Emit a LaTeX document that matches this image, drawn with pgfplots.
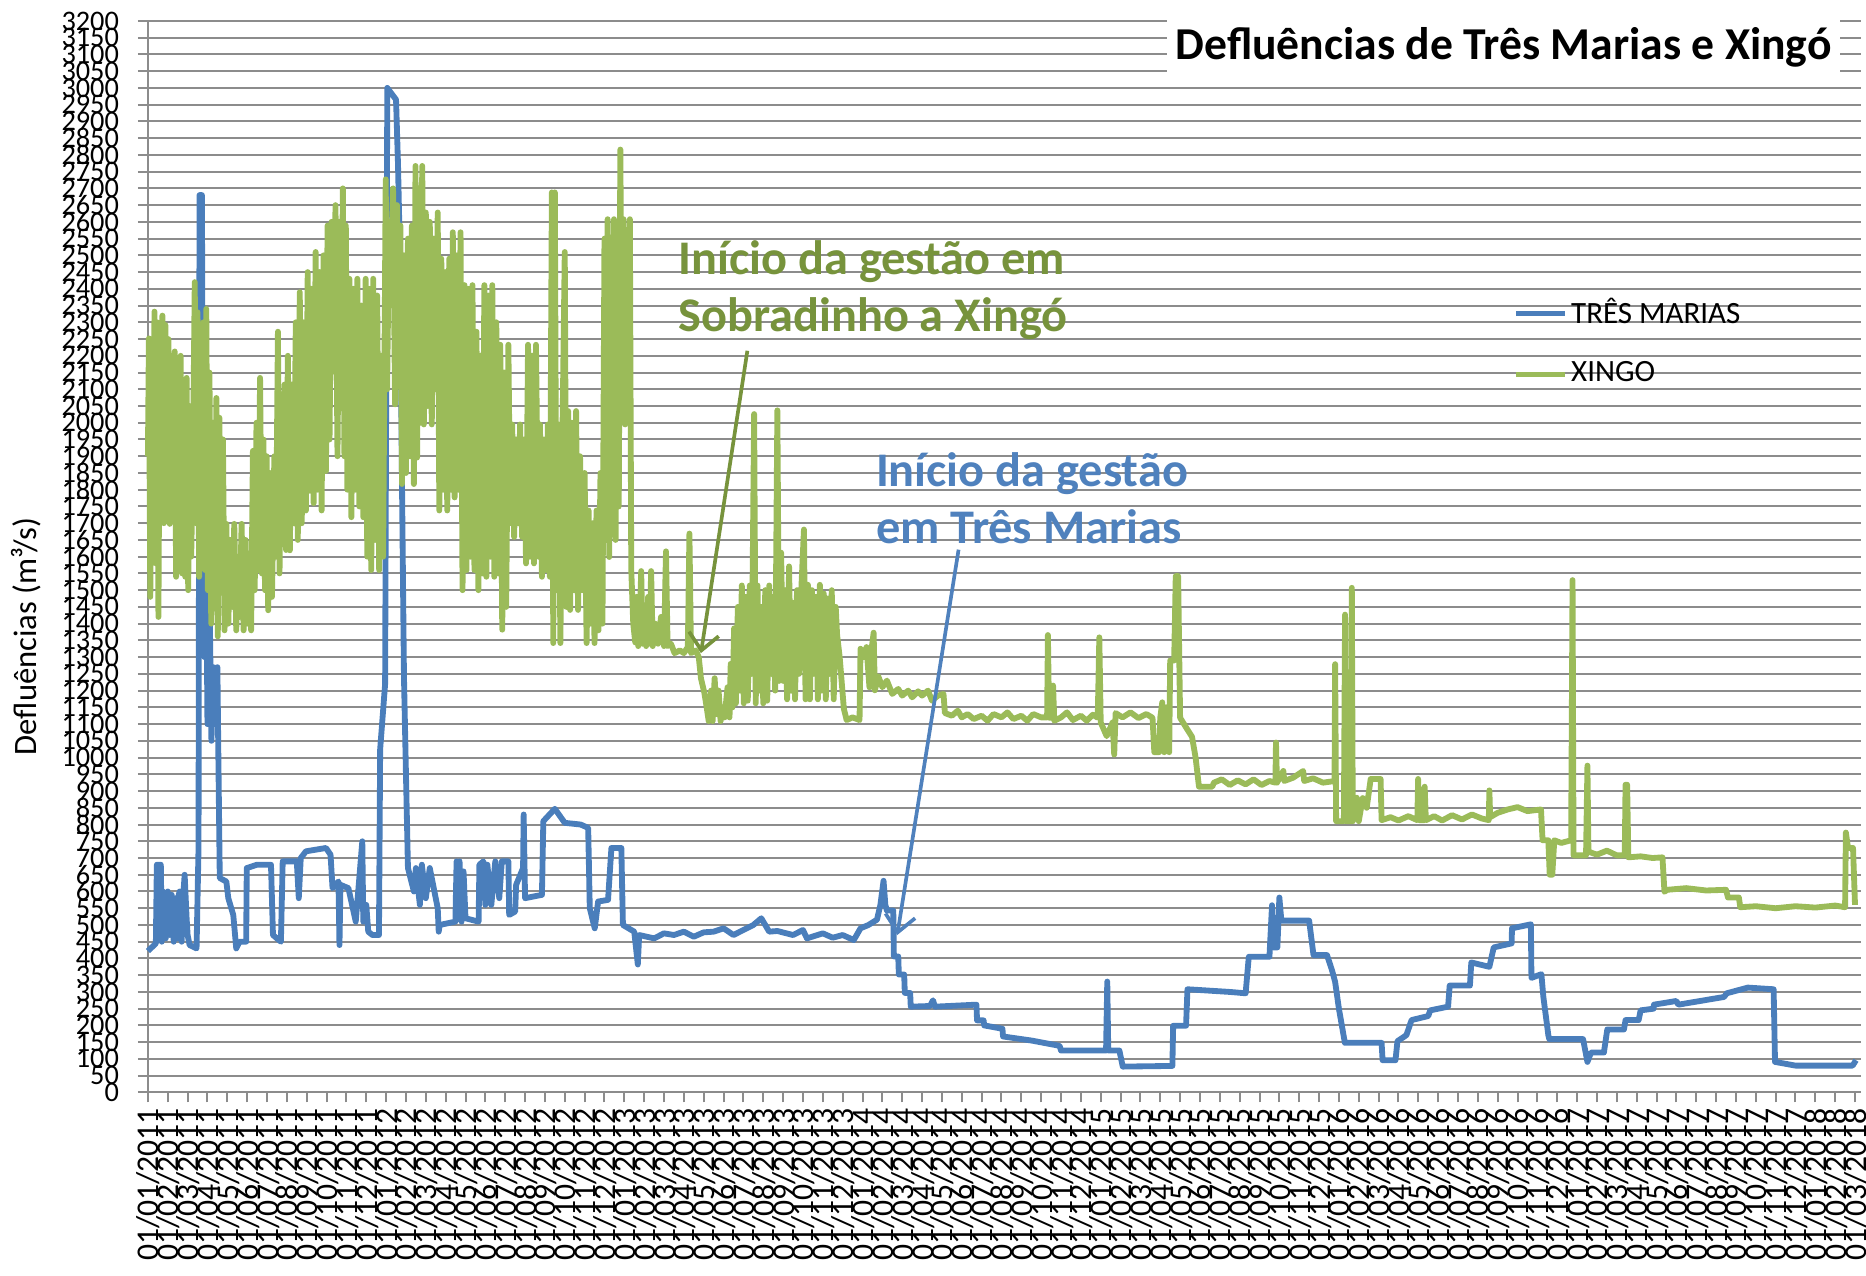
\documentclass[border=0pt]{standalone}
\usepackage{fontspec}
\setmainfont{Carlito}
\usepackage{pgfplots}
\pgfplotsset{compat=1.18}
\usetikzlibrary{arrows.meta}
\definecolor{tmblue}{RGB}{74,126,187}
\definecolor{xgreen}{RGB}{155,187,89}
\definecolor{annogreen}{RGB}{119,147,60}
\definecolor{annoblue}{RGB}{79,129,189}
\definecolor{gridgray}{RGB}{140,140,140}
\begin{document}
\begin{tikzpicture}
\begin{axis}[
  scale only axis, width=514.2pt, height=321.6pt,
  xmin=0, xmax=86.3, ymin=0, ymax=3200,
  clip=false,
  axis x line*=bottom, axis y line*=left,
  axis line style={gridgray, line width=0.6pt, -},
  ytick={0,50,...,3200},
  ymajorgrids, grid style={gridgray, line width=0.6pt},
  xtick={0,...,86},
  tick align=outside, major tick length=3pt,
  tick style={gridgray, line width=0.6pt},
  /pgf/number format/assume math mode=true,
  /pgf/number format/set thousands separator={},
  yticklabel style={font=\fontsize{8.5}{9}\selectfont, inner sep=0pt, xshift=-5.5pt},
  xticklabel={\pgfmathtruncatemacro{\mm}{mod(round(\tick),12)+1}\pgfmathtruncatemacro{\yy}{2011+floor(round(\tick)/12)}01/\ifnum\mm<10 0\fi\mm/\yy},
  xticklabel style={rotate=90, anchor=east, font=\fontsize{9.5}{10}\selectfont, inner xsep=1.5pt, inner ysep=0pt, text height=0.66em, text depth=0pt},
  ylabel={Defluências (m³/s)},
  ylabel style={at={(axis description cs:-0.0711,0.4254)}, anchor=center, font=\fontsize{9.8}{11}\selectfont},
  legend style={draw=none, fill=none, at={(0.791,0.700)}, anchor=west, row sep=8pt, font=\fontsize{9.3}{10}\selectfont, nodes={inner sep=1pt}},
  legend cell align=left,
  legend image code/.code={\draw[#1, line width=1.6pt] (0pt,0pt) -- (14.7pt,0pt);},
]
\path (axis cs:-7.452,-546.3) rectangle (axis cs:86.5,3262.7);

\addplot[tmblue, line width=1.75pt, line join=round, mark=none] coordinates {
(0.00,422) (0.40,445) (0.45,680) (0.65,680) (0.70,450) (0.75,600) (0.80,560) (0.85,470) (0.90,460) (0.95,590) (1.00,600) (1.10,470) (1.15,560) (1.20,590)
(1.30,450) (1.35,520) (1.40,580) (1.50,460) (1.55,590) (1.60,600) (1.70,450) (1.75,560) (1.85,650) (1.95,520) (2.00,470) (2.10,440) (2.45,430) (2.55,730)
(2.60,2680) (2.72,2680) (2.78,1700) (2.85,1300) (2.92,1720) (3.00,1100) (3.10,1500) (3.20,1050) (3.30,1270) (3.40,1100)
(3.50,1270) (3.55,1000) (3.62,640) (3.95,630) (4.05,580) (4.30,530) (4.45,430) (4.62,450) (4.95,450) (4.98,670)
(5.50,680) (6.20,680) (6.30,470) (6.70,450) (6.79,690) (7.50,690) (7.60,580) (7.70,700) (7.96,720) (8.97,730)
(9.20,710) (9.30,610) (9.60,630) (9.65,440) (9.70,620) (10.10,610) (10.47,510) (10.80,750) (10.85,510) (11.00,560) (11.10,480) (11.31,470)
(11.64,470) (11.70,1025) (11.95,1220) (12.06,3000) (12.50,2965) (12.60,2770) (12.70,2490) (12.80,1820) (12.90,1240) (13.00,950)
(13.10,670) (13.40,600) (13.50,670) (13.70,560) (13.80,680) (14.00,580) (14.20,670) (14.60,550) (14.65,480) (14.70,500)
(15.49,510) (15.55,690) (15.60,520) (15.70,690) (15.80,510) (15.90,660) (16.00,520) (16.66,510) (16.70,680) (16.90,690)
(17.00,560) (17.10,680) (17.30,560) (17.50,690) (17.70,580) (17.83,690) (18.16,690) (18.20,530) (18.50,540) (18.55,620)
(18.90,670) (18.93,830) (19.00,580) (19.85,590) (19.92,810) (20.50,847) (21.00,805) (21.80,800) (22.18,790) (22.26,550)
(22.51,490) (22.68,570) (23.18,575) (23.35,730) (23.85,730) (23.93,500) (24.50,480) (24.68,382) (24.75,470) (25.50,460)
(26.00,475) (26.50,470) (27.00,480) (27.50,465) (28.00,478) (28.50,480) (29.00,490) (29.50,470) (30.00,485) (30.50,500) (30.90,520) (31.30,480) (31.71,482) (32.50,470) (33.00,485)
(33.20,460) (34.00,475) (34.50,462) (35.00,470) (35.56,455) (35.90,490) (36.30,500) (36.73,516) (36.90,560) (37.06,632)
(37.15,560) (37.23,543) (37.55,543) (37.58,406) (37.80,406) (37.83,352) (38.10,352) (38.13,297) (38.40,297) (38.43,256) (39.40,258) (39.55,275)
(39.65,256) (41.74,262) (41.77,215) (42.10,215) (42.13,200) (43.05,190) (43.08,167) (44.50,155) (45.93,139) (46.00,125) (48.27,125)
(48.33,331) (48.38,125) (48.94,125) (49.11,77) (51.61,79) (51.65,199) (52.30,199) (52.37,308) (54.50,300) (55.30,296)
(55.46,405) (56.50,405) (56.63,559) (56.70,433) (56.90,433) (57.00,582) (57.10,513) (58.50,513) (58.72,410) (59.40,410)
(59.65,365) (59.81,330) (60.00,250) (60.30,148) (62.15,148) (62.20,96) (62.85,96) (62.95,153) (63.40,171) (63.66,216)
(64.50,228) (64.60,245) (65.50,256) (65.58,319) (66.60,319) (66.67,388) (67.58,375) (67.80,433) (68.70,445) (68.72,490)
(69.67,502) (69.70,342) (70.20,353) (70.30,285) (70.55,171) (70.60,159) (72.30,159) (72.52,91) (72.70,119) (73.35,119)
(73.52,188) (74.36,188) (74.44,216) (75.10,216) (75.20,245) (75.85,250) (75.87,262) (77.00,273) (77.10,262) (79.40,285)
(79.54,296) (80.60,313) (81.90,308) (81.97,91) (83.00,80) (85.88,80) (86.05,96)
};
\addlegendentry{TRÊS MARIAS}

\addplot[xgreen, line width=1.75pt, line join=round, mark=none] coordinates {
(0.00,1900) (0.05,2252) (0.12,1480) (0.20,2100) (0.27,1700) (0.33,2332) (0.40,1580) (0.47,2300) (0.53,1420) (0.60,2250)
(0.67,1800) (0.73,2320) (0.80,1700) (0.88,2292) (0.95,1750) (1.03,2250) (1.10,1698) (1.18,2200) (1.27,1800) (1.35,2213)
(1.42,1540) (1.50,2150) (1.58,1600) (1.65,2200) (1.73,1550) (1.80,2000) (1.88,1540) (1.95,2134) (2.03,1500) (2.10,2050)
(2.18,1600) (2.27,1900) (2.36,2420) (2.42,1700) (2.50,2330) (2.58,1540) (2.65,2250) (2.73,1650) (2.80,2300) (2.88,1560)
(2.94,2340) (3.02,1500) (3.10,2150) (3.19,1400) (3.27,2000) (3.35,1450) (3.45,2074) (3.52,1362) (3.60,2015) (3.70,1500)
(3.78,1950) (3.86,1380) (3.95,1698) (4.05,1400) (4.15,1650) (4.25,1450) (4.35,1698) (4.45,1380) (4.55,1600) (4.62,1420)
(4.72,1698) (4.82,1380) (4.92,1650) (5.02,1400) (5.12,1600) (5.20,1380) (5.29,1916) (5.38,1500) (5.47,2000) (5.56,1560)
(5.65,2134) (5.74,1550) (5.82,1950) (5.90,1500) (5.98,1900) (6.06,1440) (6.15,1850) (6.25,1480) (6.37,1900) (6.45,1600)
(6.55,2272) (6.63,1550) (6.72,2000) (6.80,1650) (6.88,2114) (6.96,1620) (7.05,2200) (7.15,1619) (7.25,2114) (7.35,1700)
(7.45,2300) (7.55,1650) (7.65,2390) (7.75,1700) (7.85,2300) (7.96,1738) (8.05,2450) (8.15,1797) (8.25,2400) (8.35,1760)
(8.45,2510) (8.55,1800) (8.65,2450) (8.75,1738) (8.85,2500) (8.97,1856) (9.05,2589) (9.15,1950) (9.25,2600) (9.35,2153)
(9.45,2650) (9.55,1900) (9.65,2600) (9.75,2100) (9.82,2700) (9.90,1900) (9.97,2589) (10.05,1800) (10.15,2430) (10.25,1718)
(10.35,2400) (10.45,1800) (10.55,2430) (10.65,1750) (10.75,2350) (10.85,1718) (10.97,2430) (11.05,1600) (11.15,2400) (11.25,1560)
(11.35,2430) (11.45,1650) (11.55,2380) (11.65,1560) (11.75,2200) (11.85,1600) (11.98,2727) (12.05,2100) (12.15,2600) (12.25,2490)
(12.35,2700) (12.45,2055) (12.55,2650) (12.64,2200) (12.72,2589) (12.80,1817) (12.90,2500) (13.00,1850) (13.10,2550) (13.20,1900)
(13.30,2589) (13.40,1817) (13.48,2767) (13.56,1896) (13.65,2700) (13.73,2000) (13.82,2767) (13.90,1995) (14.00,2628) (14.10,2050)
(14.20,2600) (14.30,1995) (14.40,2550) (14.50,2100) (14.60,2628) (14.68,1738) (14.78,2490) (14.88,1800) (14.98,2450) (15.08,1738)
(15.18,2490) (15.28,1800) (15.36,2569) (15.45,1777) (15.55,2500) (15.65,1800) (15.75,2569) (15.85,1500) (15.95,2411) (16.05,1560)
(16.15,2400) (16.25,1600) (16.35,2411) (16.45,1560) (16.55,2272) (16.65,1500) (16.75,2200) (16.85,1550) (16.95,2411) (17.05,1540)
(17.15,2380) (17.25,1600) (17.35,2411) (17.45,1540) (17.55,2300) (17.66,1550) (17.75,2233) (17.85,1382) (17.95,2150) (18.05,1450)
(18.16,2233) (18.25,1700) (18.35,1995) (18.45,1659) (18.55,1950) (18.65,1700) (18.75,1995) (18.85,1659) (18.95,1950) (19.05,1580)
(19.15,2233) (19.25,1600) (19.35,2200) (19.45,1580) (19.55,2233) (19.67,1600) (19.75,1995) (19.85,1540) (19.95,1950) (20.05,1560)
(20.15,1995) (20.25,1540) (20.35,2688) (20.42,1342) (20.50,2688) (20.58,1500) (20.68,1995) (20.78,1342) (20.88,1950) (21.00,2510)
(21.08,1450) (21.17,2035) (21.27,1441) (21.37,2000) (21.47,1500) (21.57,2035) (21.67,1441) (21.77,1900) (21.88,1500) (22.00,1850)
(22.10,1342) (22.20,1738) (22.30,1400) (22.40,1700) (22.50,1342) (22.60,1738) (22.70,1380) (22.80,1850) (22.90,1400) (23.00,2550)
(23.08,1650) (23.16,2608) (23.24,1599) (23.32,2500) (23.40,1700) (23.48,2608) (23.56,1650) (23.64,2550) (23.72,1750) (23.80,2816)
(23.88,2100) (23.96,2608) (24.04,1995) (24.12,2550) (24.20,2050) (24.28,2608) (24.35,1560) (24.45,1400) (24.55,1344) (24.62,1480)
(24.70,1333) (24.78,1400) (24.85,1557) (24.92,1340) (25.00,1420) (25.10,1333) (25.20,1480) (25.28,1340) (25.35,1557) (25.43,1333)
(25.55,1400) (25.70,1340) (25.85,1420) (26.00,1333) (26.10,1616) (26.18,1333) (26.35,1340) (26.53,1312) (26.80,1320) (27.00,1312)
(27.20,1330) (27.28,1669) (27.36,1312) (27.60,1320) (27.75,1300) (27.86,1237) (28.03,1194) (28.15,1150) (28.25,1109) (28.37,1200)
(28.45,1109) (28.55,1237) (28.65,1130) (28.75,1200) (28.85,1109) (28.95,1150) (29.05,1120) (29.20,1210) (29.30,1120) (29.36,1280)
(29.45,1150) (29.53,1386) (29.62,1162) (29.72,1450) (29.82,1200) (29.92,1514) (30.02,1162) (30.12,1480) (30.22,1170) (30.32,1514)
(30.42,1250) (30.54,2026) (30.62,1162) (30.71,1514) (30.80,1200) (30.90,1450) (31.00,1162) (31.10,1500) (31.20,1170) (31.30,1514)
(31.40,1250) (31.50,1480) (31.60,1200) (31.71,2037) (31.80,1229) (31.90,1612) (32.00,1229) (32.10,1500) (32.20,1174) (32.30,1571)
(32.40,1200) (32.50,1462) (32.60,1174) (32.70,1500) (32.80,1250) (32.90,1480) (33.05,1681) (33.13,1174) (33.25,1516) (33.35,1174)
(33.45,1500) (33.55,1250) (33.65,1480) (33.75,1174) (33.85,1516) (33.95,1200) (34.05,1490) (34.15,1174) (34.25,1475) (34.35,1250)
(34.45,1500) (34.55,1174) (34.65,1450) (34.72,1366) (34.85,1300) (35.06,1146) (35.20,1112) (35.50,1120) (35.85,1112) (35.90,1325)
(36.10,1300) (36.20,1330) (36.35,1210) (36.45,1320) (36.56,1373) (36.62,1201) (36.80,1242) (37.00,1210) (37.23,1230) (37.50,1190)
(37.80,1205) (38.00,1185) (38.30,1200) (38.50,1180) (38.80,1198) (39.00,1185) (39.30,1200) (39.50,1170) (39.80,1185) (40.08,1190)
(40.15,1133) (40.50,1125) (40.80,1140) (41.00,1120) (41.30,1130) (41.60,1115) (42.00,1125) (42.30,1110) (42.60,1130) (43.00,1120)
(43.30,1135) (43.60,1115) (44.00,1125) (44.30,1110) (44.60,1130) (45.00,1120) (45.30,1120) (45.34,1366) (45.40,1119) (45.55,1119)
(45.60,1215) (45.66,1110) (46.00,1120) (46.30,1135) (46.60,1112) (47.00,1125) (47.30,1110) (47.60,1128) (47.85,1119)
(47.93,1359) (48.00,1105) (48.30,1064) (48.60,1105) (48.68,1009) (48.75,1133) (49.10,1120) (49.50,1135) (49.90,1118) (50.30,1130) (50.61,1119) (50.70,1016) (50.94,1016)
(51.00,1119) (51.10,1165) (51.20,1016) (51.30,1150) (51.45,1016) (51.50,1290) (51.70,1290) (51.78,1542) (51.90,1542) (52.00,1119)
(52.30,1090) (52.60,1062) (52.78,1000) (52.95,913) (53.62,913) (53.70,925) (54.10,935) (54.50,918) (54.90,932) (55.30,920) (55.70,935) (56.10,918) (56.50,930) (56.80,925) (56.83,1045) (56.88,925) (57.20,960)
(57.25,930) (57.70,940) (58.20,960) (58.25,930) (58.70,938) (59.20,925) (59.78,930) (59.81,1279) (59.86,810) (60.25,810) (60.31,1427) (60.36,810) (60.60,810)
(60.65,1507) (60.70,810) (60.90,880) (61.00,810) (61.20,879) (61.40,850) (61.60,936) (62.10,936) (62.15,813) (62.60,822) (63.00,812) (63.50,825) (63.95,813)
(63.99,936) (64.05,813) (64.30,813) (64.32,913) (64.38,813) (64.80,825) (65.20,812) (65.70,828) (66.20,815) (66.70,830) (67.20,818) (67.55,813) (67.58,902) (67.62,822) (68.00,835) (68.50,845)
(69.00,852) (69.50,840) (70.18,845) (70.26,753) (70.55,753) (70.62,650) (70.75,650) (70.85,753) (71.20,745) (71.70,753) (71.77,1530) (71.82,708) (72.45,708)
(72.52,976) (72.57,719) (73.00,710) (73.50,722) (74.00,708) (74.40,708) (74.44,919) (74.52,919) (74.58,702) (75.20,705) (75.80,700) (76.30,702) (76.40,599) (76.53,605) (77.50,610) (78.50,603) (79.50,605)
(79.60,582) (80.15,582) (80.22,553) (81.00,556) (82.00,550) (83.00,556) (84.00,552) (85.00,558) (85.50,553) (85.54,776) (85.65,730) (85.90,730) (86.00,560)
};
\addlegendentry{XINGO}

\node[fill=white, inner xsep=2.5pt, minimum height=18pt, font=\bfseries\fontsize{13.7}{16}\selectfont]
  at (axis cs:68.3,3122) {Defluências de Três Marias e Xingó};

\node[anchor=west, inner sep=0pt, align=left, text=annogreen, font=\bfseries\fontsize{14.5}{17.1}\selectfont]
  at (axis cs:26.7,2395) {Início da gestão em\\Sobradinho a Xingó};
\draw[annogreen, line width=1.1pt, -{Straight Barb[length=5pt,width=9pt]}]
  (axis cs:30.2,2215) -- (axis cs:27.86,1312);

\node[anchor=west, inner sep=0pt, align=left, text=annoblue, font=\bfseries\fontsize{14.5}{17.1}\selectfont]
  at (axis cs:36.65,1775) {Início da gestão\\em Três Marias};
\draw[annoblue, line width=1.1pt, -{Straight Barb[length=5pt,width=9pt]}]
  (axis cs:40.84,1621) -- (axis cs:37.75,470);
\end{axis}
\end{tikzpicture}
\end{document}
